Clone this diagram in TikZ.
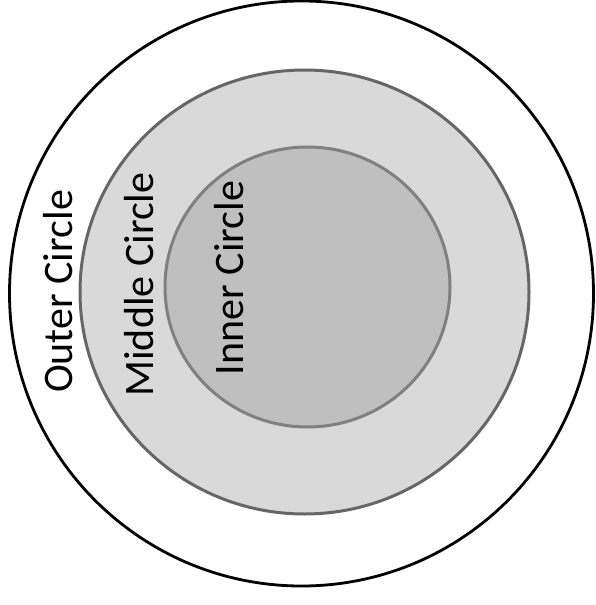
\documentclass[tikz,border=0pt]{standalone}
\usepackage{fontspec}
\setmainfont{Carlito}
\definecolor{midfill}{HTML}{D9D9D9}
\definecolor{midline}{HTML}{666666}
\definecolor{innfill}{HTML}{BFBFBF}
\definecolor{innline}{HTML}{808080}
\tikzset{
  outerring/.style={draw=black, line width=2.8pt, fill=white},
  middlering/.style={draw=midline, line width=3pt, fill=midfill},
  innerring/.style={draw=innline, line width=3pt, fill=innfill},
  ringlabel/.style={rotate=90, anchor=base, inner sep=0pt, font=\fontsize{42}{50}\selectfont, text=black}
}
\begin{document}
\begin{tikzpicture}[x=1pt,y=-1pt]
\useasboundingbox[fill=white] (0,0) rectangle (595,605);
\draw[outerring] (301.5,293.5) ellipse [x radius=292, y radius=292.5];
\draw[middlering] (304.5,292) ellipse [x radius=224.5, y radius=222];
\draw[innerring] (307.5,287) ellipse [x radius=142.5, y radius=140];
\node[ringlabel] (outerlabel) at (72,291.5) {Outer Circle};
\node[ringlabel] (middlelabel) at (153.5,284.5) {Middle Circle};
\node[ringlabel] (innerlabel) at (243,278) {Inner Circle};
\end{tikzpicture}
\end{document}
